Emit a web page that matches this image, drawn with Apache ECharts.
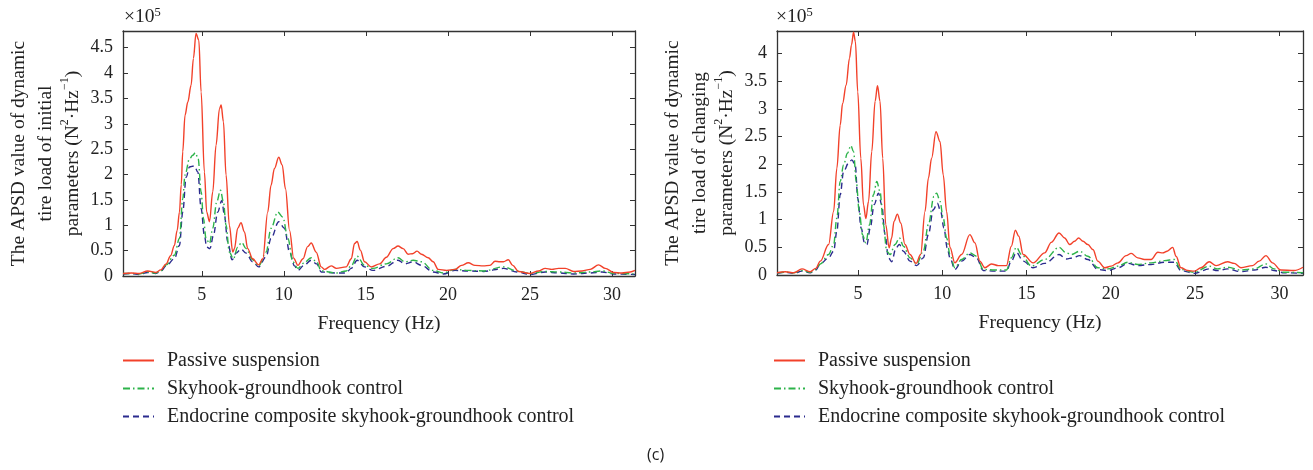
<!DOCTYPE html>
<html>
<head>
<meta charset="utf-8">
<script src="https://cdn.jsdelivr.net/npm/echarts@6/dist/echarts.min.js"></script>
<style>
  html, body { margin: 0; padding: 0; background: #fff; }
  #main { width: 1313px; height: 470px; }
</style>
</head>
<body>
<div id="main"></div>
<script>
  // APSD values in units of 1e5 N^2/Hz, [frequency Hz, value]
  const names = ['Passive suspension', 'Skyhook-groundhook control', 'Endocrine composite skyhook-groundhook control']

  const initialPassive = [[0.2,0.05],[0.7,0.06],[1.2,0.05],[1.7,0.1],[2.2,0.07],[2.5,0.12],[2.83,0.24],[3.1,0.4],[3.33,0.6],[3.5,0.9],[3.64,1.26],[3.75,1.8],[3.84,2.45],[3.98,3.17],[4.15,3.43],[4.35,3.76],[4.49,4.29],[4.65,4.78],[4.82,4.65],[4.96,3.63],[5.16,2.05],[5.3,1.26],[5.47,1.07],[5.67,1.66],[5.87,2.58],[6.08,3.3],[6.18,3.37],[6.32,3.04],[6.48,1.99],[6.68,1.0],[6.89,0.47],[6.99,0.54],[7.19,0.94],[7.39,1.05],[7.6,0.87],[7.8,0.54],[8.1,0.34],[8.47,0.22],[8.72,0.34],[9.02,1.26],[9.22,1.79],[9.43,2.12],[9.69,2.34],[9.9,2.19],[10.1,1.72],[10.35,0.9],[10.6,0.35],[10.86,0.21],[11.17,0.34],[11.45,0.58],[11.67,0.65],[11.97,0.47],[12.28,0.18],[12.48,0.13],[12.89,0.2],[13.2,0.15],[13.8,0.18],[14.11,0.34],[14.31,0.64],[14.47,0.68],[14.66,0.51],[14.92,0.28],[15.33,0.18],[15.84,0.24],[16.25,0.37],[16.66,0.54],[16.96,0.59],[17.27,0.54],[17.57,0.43],[17.84,0.44],[18.12,0.49],[18.39,0.43],[18.8,0.36],[19.1,0.28],[19.41,0.13],[19.92,0.11],[20.43,0.13],[20.83,0.21],[21.24,0.26],[21.65,0.21],[22.16,0.2],[22.56,0.21],[22.87,0.29],[23.17,0.28],[23.38,0.28],[23.68,0.32],[23.95,0.21],[24.3,0.09],[25.01,0.05],[25.52,0.1],[25.93,0.15],[26.33,0.13],[26.74,0.15],[27.15,0.15],[27.66,0.09],[28.17,0.1],[28.67,0.13],[29.18,0.22],[29.59,0.15],[30.1,0.07],[30.6,0.06],[31.11,0.08],[31.4,0.11]]
  const initialSkyhook = [[0.2,0.05],[0.7,0.05],[1.2,0.04],[1.7,0.08],[2.2,0.06],[2.5,0.1],[2.83,0.22],[3.33,0.41],[3.64,0.74],[3.84,1.52],[3.98,1.99],[4.25,2.31],[4.45,2.38],[4.61,2.43],[4.78,2.31],[4.96,1.66],[5.1,1.14],[5.26,0.74],[5.47,0.64],[5.67,0.94],[5.91,1.46],[6.14,1.69],[6.32,1.46],[6.48,1.0],[6.68,0.47],[6.93,0.34],[7.19,0.57],[7.43,0.66],[7.7,0.54],[8.1,0.32],[8.47,0.2],[8.92,0.47],[9.22,0.94],[9.63,1.26],[9.94,1.16],[10.25,0.74],[10.55,0.28],[10.86,0.15],[11.2,0.25],[11.67,0.36],[12.0,0.28],[12.28,0.1],[13.2,0.06],[13.8,0.1],[14.1,0.2],[14.47,0.39],[14.92,0.21],[15.43,0.15],[16.25,0.24],[16.96,0.36],[17.37,0.28],[17.88,0.31],[18.39,0.28],[19.1,0.11],[19.72,0.06],[20.43,0.13],[21.24,0.11],[22.16,0.1],[23.38,0.18],[24.2,0.1],[25.01,0.05],[25.93,0.09],[26.74,0.08],[27.66,0.06],[28.67,0.08],[29.39,0.1],[30.1,0.05],[31.4,0.04]]
  const initialEndocrine = [[0.2,0.04],[0.7,0.05],[1.2,0.03],[1.7,0.07],[2.2,0.05],[2.5,0.09],[2.83,0.2],[3.33,0.34],[3.64,0.6],[3.84,1.26],[4.05,1.95],[4.25,2.15],[4.55,2.17],[4.76,2.05],[4.96,1.33],[5.16,0.8],[5.3,0.57],[5.5,0.54],[5.71,0.8],[5.97,1.26],[6.22,1.49],[6.38,1.2],[6.58,0.67],[6.85,0.32],[7.09,0.45],[7.39,0.53],[7.7,0.45],[8.1,0.28],[8.47,0.18],[8.92,0.38],[9.22,0.74],[9.69,1.07],[10.04,0.94],[10.35,0.47],[10.65,0.2],[10.86,0.11],[11.2,0.2],[11.67,0.31],[12.0,0.24],[12.28,0.08],[13.2,0.06],[13.8,0.06],[14.1,0.15],[14.47,0.31],[14.92,0.18],[15.43,0.11],[16.25,0.19],[16.96,0.31],[17.37,0.24],[17.88,0.28],[18.39,0.21],[19.1,0.08],[19.72,0.04],[20.43,0.11],[21.24,0.1],[22.16,0.09],[23.38,0.15],[24.2,0.08],[25.01,0.03],[25.93,0.08],[26.74,0.06],[27.66,0.04],[28.67,0.06],[29.39,0.08],[30.1,0.04],[31.4,0.03]]

  const changingPassive = [[0.2,0.04],[0.7,0.06],[1.2,0.04],[1.68,0.11],[2.17,0.06],[2.5,0.12],[2.77,0.25],[3.26,0.55],[3.56,1.15],[3.75,1.93],[3.95,2.71],[4.09,3.1],[4.3,3.43],[4.5,3.92],[4.62,4.16],[4.74,4.39],[4.85,4.22],[4.99,3.31],[5.17,2.11],[5.33,1.27],[5.47,1.02],[5.63,1.33],[5.82,2.23],[6.02,3.14],[6.16,3.42],[6.31,3.14],[6.47,2.11],[6.65,0.91],[6.85,0.49],[7.0,0.67],[7.14,0.97],[7.34,1.1],[7.54,0.94],[7.79,0.55],[8.09,0.37],[8.45,0.21],[8.72,0.37],[8.98,1.15],[9.18,1.75],[9.37,2.11],[9.63,2.59],[9.87,2.41],[10.06,1.81],[10.26,1.15],[10.46,0.5],[10.75,0.22],[11.15,0.37],[11.64,0.73],[11.94,0.58],[12.23,0.25],[12.53,0.13],[12.92,0.2],[13.32,0.17],[13.81,0.17],[14.1,0.52],[14.34,0.81],[14.54,0.7],[14.8,0.37],[15.39,0.22],[16.08,0.4],[16.47,0.59],[16.93,0.76],[17.26,0.67],[17.56,0.55],[17.85,0.61],[18.09,0.67],[18.35,0.61],[18.64,0.55],[18.94,0.46],[19.23,0.25],[19.63,0.13],[20.02,0.16],[20.42,0.22],[20.91,0.35],[21.21,0.39],[21.6,0.31],[22.0,0.28],[22.39,0.28],[22.79,0.41],[23.08,0.4],[23.34,0.43],[23.67,0.5],[23.87,0.34],[24.16,0.13],[24.56,0.08],[24.95,0.07],[25.35,0.13],[25.84,0.24],[26.24,0.17],[26.93,0.24],[27.32,0.21],[27.72,0.13],[28.41,0.17],[28.8,0.25],[29.2,0.35],[29.59,0.22],[30.08,0.09],[30.87,0.08],[31.4,0.14]]
  const changingSkyhook = [[0.2,0.04],[0.7,0.05],[1.2,0.04],[1.68,0.08],[2.17,0.05],[2.5,0.1],[2.77,0.2],[3.26,0.37],[3.56,0.55],[3.75,1.03],[3.95,1.69],[4.15,1.99],[4.38,2.2],[4.58,2.34],[4.74,2.23],[4.9,1.69],[5.08,1.15],[5.27,0.73],[5.47,0.58],[5.69,0.91],[5.92,1.45],[6.12,1.69],[6.31,1.51],[6.51,0.91],[6.71,0.43],[6.91,0.37],[7.2,0.55],[7.46,0.67],[7.7,0.52],[8.09,0.31],[8.49,0.2],[8.88,0.43],[9.18,0.91],[9.51,1.42],[9.67,1.48],[9.87,1.33],[10.06,1.03],[10.26,0.67],[10.46,0.37],[10.75,0.13],[11.15,0.28],[11.64,0.4],[12.04,0.34],[12.43,0.1],[13.12,0.09],[13.81,0.09],[14.1,0.31],[14.4,0.5],[14.7,0.37],[15.29,0.16],[16.08,0.28],[16.93,0.5],[17.36,0.4],[17.66,0.37],[18.15,0.43],[18.64,0.34],[19.23,0.13],[19.82,0.11],[20.42,0.16],[21.01,0.23],[21.6,0.19],[22.39,0.22],[23.18,0.26],[23.77,0.28],[24.16,0.1],[24.95,0.05],[25.84,0.16],[26.33,0.11],[26.93,0.14],[27.72,0.09],[28.51,0.11],[29.2,0.2],[29.69,0.11],[30.28,0.05],[31.4,0.04]]
  const changingEndocrine = [[0.2,0.03],[0.7,0.05],[1.2,0.03],[1.68,0.07],[2.17,0.04],[2.5,0.09],[2.77,0.2],[3.26,0.31],[3.56,0.43],[3.75,0.79],[3.95,1.45],[4.15,1.87],[4.44,2.02],[4.64,2.08],[4.84,1.99],[4.99,1.39],[5.19,0.85],[5.39,0.58],[5.53,0.55],[5.73,0.85],[5.96,1.27],[6.22,1.48],[6.41,1.27],[6.61,0.73],[6.81,0.31],[7.0,0.24],[7.26,0.49],[7.46,0.55],[7.7,0.43],[8.09,0.25],[8.49,0.17],[8.88,0.31],[9.18,0.73],[9.47,1.18],[9.71,1.3],[9.91,1.15],[10.1,0.85],[10.3,0.49],[10.46,0.31],[10.75,0.1],[11.15,0.25],[11.64,0.37],[12.04,0.31],[12.43,0.08],[13.12,0.07],[13.81,0.07],[14.1,0.25],[14.4,0.41],[14.8,0.25],[15.39,0.13],[16.08,0.21],[16.93,0.37],[17.36,0.29],[17.76,0.31],[18.15,0.35],[18.64,0.28],[19.23,0.1],[19.82,0.08],[20.42,0.13],[21.01,0.21],[21.6,0.17],[22.39,0.19],[23.18,0.23],[23.77,0.23],[24.16,0.08],[24.95,0.03],[25.84,0.11],[26.33,0.08],[26.93,0.11],[27.72,0.06],[28.51,0.09],[29.2,0.14],[29.69,0.08],[30.28,0.04],[31.4,0.03]]

  const xTicks = [5, 10, 15, 20, 25, 30]
  const yTicksInitial = [0, 0.5, 1, 1.5, 2, 2.5, 3, 3.5, 4, 4.5]
  const yTicksChanging = [0, 0.5, 1, 1.5, 2, 2.5, 3, 3.5, 4]

  const serif = '"Liberation Serif", "DejaVu Serif", serif'
  const textColor = '#222'
  const axisColor = '#333'
  const colors = ['#f2412a', '#2db34a', '#2b2b8e']
  const lineTypes = ['solid', [7, 3, 1.5, 3], [6, 4]]

  function xAxes(grid) {
    const base = {
      type: 'value', gridIndex: grid, min: 0.2, max: 31.4,
      axisLine: { show: true, onZero: false, lineStyle: { color: axisColor, width: 1.3 } },
      axisTick: { show: true, inside: true, length: 5, customValues: xTicks, lineStyle: { color: axisColor } },
      splitLine: { show: false }
    }
    return [
      Object.assign({}, base, {
        position: 'bottom',
        name: 'Frequency (Hz)', nameLocation: 'middle', nameGap: 38,
        nameTextStyle: { fontFamily: serif, fontSize: 19.5, color: textColor },
        axisLabel: { show: true, customValues: xTicks, margin: 10, fontFamily: serif, fontSize: 18, color: textColor }
      }),
      Object.assign({}, base, { position: 'top', axisLabel: { show: false } })
    ]
  }

  function yAxes(grid, max, ticks, line2) {
    const base = {
      type: 'value', gridIndex: grid, min: 0, max: max,
      axisLine: { show: true, onZero: false, lineStyle: { color: axisColor, width: 1.3 } },
      axisTick: { show: true, inside: true, length: 5, customValues: ticks, lineStyle: { color: axisColor } },
      splitLine: { show: false }
    }
    return [
      Object.assign({}, base, {
        position: 'left',
        name: 'The APSD value of dynamic\n' + line2 + '\nparameters (N{sup|2}·Hz{sup|−1})',
        nameLocation: 'middle', nameGap: 37,
        nameTextStyle: {
          fontFamily: serif, fontSize: 19.5, color: textColor, lineHeight: 27,
          rich: { sup: { fontFamily: serif, fontSize: 12, color: textColor, verticalAlign: 'top', lineHeight: 22 } }
        },
        axisLabel: {
          show: true, customValues: ticks, margin: 10, fontFamily: serif, fontSize: 18, color: textColor,
          formatter: v => String(v)
        }
      }),
      Object.assign({}, base, { position: 'right', axisLabel: { show: false } })
    ]
  }

  function makeSeries(data, i, axis) {
    return {
      name: names[i],
      type: 'line',
      xAxisIndex: axis,
      yAxisIndex: axis,
      data: data,
      symbol: 'none',
      smooth: 0.35,
      smoothMonotone: 'x',
      lineStyle: { color: colors[i], width: 1.4, type: lineTypes[i] },
      itemStyle: { color: colors[i] },
      z: 10 - i
    }
  }

  function legendAt(left) {
    return {
      orient: 'vertical', left: left, top: 350, padding: 0,
      itemWidth: 31, itemHeight: 14, itemGap: 7,
      selectedMode: false,
      itemStyle: { opacity: 0 },
      data: names,
      textStyle: { fontFamily: serif, fontSize: 20, color: textColor, lineHeight: 21, padding: [0, 0, 0, 8] }
    }
  }

  const expLabel = {
    fontFamily: serif, fontSize: 19.5, fill: textColor,
    text: '×10{sup|5}',
    rich: { sup: { fontFamily: serif, fontSize: 12.5, fill: textColor, verticalAlign: 'top', lineHeight: 22 } }
  }

  const chart = echarts.init(document.getElementById('main'))
  chart.setOption({
    animation: false,
    backgroundColor: '#fff',
    grid: [
      { left: 123, top: 31, width: 512, height: 245 },
      { left: 777, top: 31, width: 526, height: 244 }
    ],
    xAxis: xAxes(0).concat(xAxes(1)),
    yAxis: yAxes(0, 4.83, yTicksInitial, 'tire load of initial').concat(yAxes(1, 4.41, yTicksChanging, 'tire load of changing')),
    legend: [legendAt(122), legendAt(773)],
    graphic: [
      { type: 'text', left: 124, top: 6, style: expLabel },
      { type: 'text', left: 776, top: 6, style: expLabel },
      { type: 'text', left: 647, top: 447, style: { text: '(c)', fontFamily: '"Open Sans", "Noto Sans", sans-serif', fontSize: 16, fill: textColor } }
    ],
    series: [
      makeSeries(initialPassive, 0, 0),
      makeSeries(initialSkyhook, 1, 0),
      makeSeries(initialEndocrine, 2, 0),
      makeSeries(changingPassive, 0, 2),
      makeSeries(changingSkyhook, 1, 2),
      makeSeries(changingEndocrine, 2, 2)
    ]
  })
</script>
</body>
</html>
